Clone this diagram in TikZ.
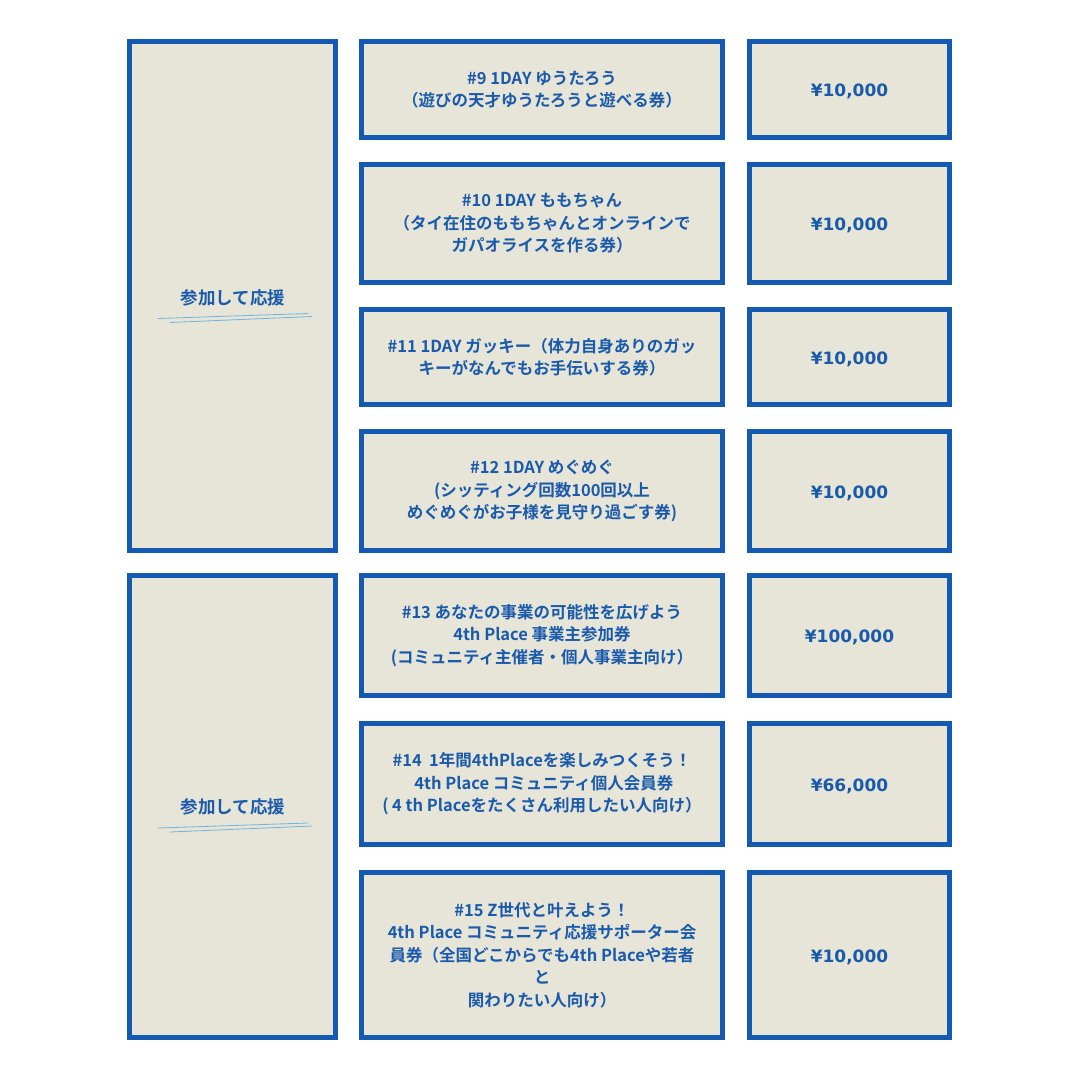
\documentclass[tikz,border=0pt]{standalone}
\usepackage{fontspec}
\setmainfont{Noto Sans CJK JP}[BoldFont={Noto Sans CJK JP Bold}]
\newfontfamily\pricefont{DejaVu Sans}
\definecolor{ticketblue}{RGB}{20,90,178}
\definecolor{ticketbg}{RGB}{231,229,215}
\definecolor{inkblue}{RGB}{26,90,172}
\definecolor{penblue}{RGB}{110,180,225}
\tikzset{
  ticket/.style={draw=ticketblue, line width=5pt, fill=ticketbg, text=inkblue,
    align=center, inner sep=2pt, font=\bfseries\fontsize{16.5}{22.5}\selectfont},
  price/.style={ticket, font=\pricefont\bfseries\fontsize{17}{21}\selectfont,
    text height=17pt, text depth=3pt},
  cheer/.style={text=inkblue, font=\bfseries\fontsize{17.5}{21}\selectfont},
  scribble/.style={penblue, line width=0.8pt, line cap=round}
}

\begin{document}
\begin{tikzpicture}[x=1pt, y=-1pt]
  \useasboundingbox[fill=white] (0,0) rectangle (1080,1080);
  % left column
  \node[ticket, minimum width=206pt, minimum height=509pt] (side1) at (232.5,296) {};
  \node[ticket, minimum width=206pt, minimum height=462pt] (side2) at (232.5,806.5) {};
  \node[cheer] (cheer1) at (233,297.5) {参加して応援};
  \node[cheer] (cheer2) at (233,807) {参加して応援};
  \draw[scribble] (cheer1.center) ++(-75,21) -- ++(150,-5);
  \draw[scribble] (cheer1.center) ++(-63,25) -- ++(142,-6);
  \draw[scribble] (cheer2.center) ++(-75,21) -- ++(150,-5);
  \draw[scribble] (cheer2.center) ++(-63,25) -- ++(142,-6);
  % tickets
  \node[ticket, minimum width=361pt, minimum height=96pt] (t9) at (542,89.5)
    {\#9 1DAY ゆうたろう\\（遊びの天才ゆうたろうと遊べる券）};
  \node[ticket, minimum width=361pt, minimum height=118pt] (t10) at (542,223.5)
    {\#10 1DAY ももちゃん\\（タイ在住のももちゃんとオンラインで\\ガパオライスを作る券）};
  \node[ticket, minimum width=361pt, minimum height=95pt] (t11) at (542,357)
    {\#11 1DAY ガッキー（体力自身ありのガッ\\キーがなんでもお手伝いする券）};
  \node[ticket, minimum width=361pt, minimum height=119pt] (t12) at (542,491)
    {\#12 1DAY めぐめぐ\\(シッティング回数100回以上\\めぐめぐがお子様を見守り過ごす券)};
  \node[ticket, minimum width=361pt, minimum height=120pt] (t13) at (542,635.5)
    {\#13 あなたの事業の可能性を広げよう\\4th Place 事業主参加券\\(コミュニティ主催者・個人事業主向け）};
  \node[ticket, minimum width=361pt, minimum height=121pt] (t14) at (542,784)
    {\#14\ \ 1年間4thPlaceを楽しみつくそう！\\\ 4th Place コミュニティ個人会員券\\( 4 th Placeをたくさん利用したい人向け）};
  \node[ticket, minimum width=361pt, minimum height=165pt] (t15) at (542,955)
    {\#15 Z世代と叶えよう！\\4th Place コミュニティ応援サポーター会\\員券（全国どこからでも4th Placeや若者\\と\\関わりたい人向け）};
  % prices
  \node[price, minimum width=200pt, minimum height=96pt] (p9) at (849.5,89.5) {¥10,000};
  \node[price, minimum width=200pt, minimum height=118pt] (p10) at (849.5,223.5) {¥10,000};
  \node[price, minimum width=200pt, minimum height=95pt] (p11) at (849.5,357) {¥10,000};
  \node[price, minimum width=200pt, minimum height=119pt] (p12) at (849.5,491) {¥10,000};
  \node[price, minimum width=200pt, minimum height=120pt] (p13) at (849.5,635.5) {¥100,000};
  \node[price, minimum width=200pt, minimum height=121pt] (p14) at (849.5,784) {¥66,000};
  \node[price, minimum width=200pt, minimum height=165pt] (p15) at (849.5,955) {¥10,000};
\end{tikzpicture}
\end{document}
